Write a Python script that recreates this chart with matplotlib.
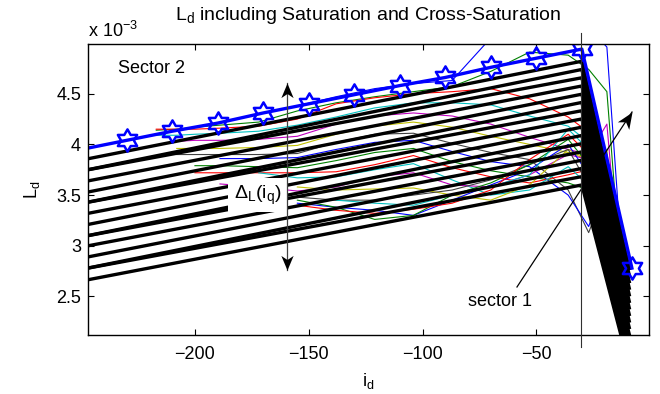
import numpy as np
import matplotlib
matplotlib.use("Agg")
import matplotlib.pyplot as plt
from matplotlib.path import Path
from matplotlib.markers import MarkerStyle
from matplotlib.lines import Line2D
from matplotlib.ticker import FuncFormatter

plt.rcParams['font.family'] = ['Liberation Sans', 'DejaVu Sans']
plt.rcParams['mathtext.fontset'] = 'custom'
plt.rcParams['mathtext.rm'] = 'Liberation Sans'
plt.rcParams['mathtext.it'] = 'Liberation Sans'
plt.rcParams['mathtext.default'] = 'regular'

SCALE = 1e-3  # inductance values below are in units of 1e-3 H

# i_q = 0 curve (sector 2 grid plus the sector 1 end point)
ref_id = [-250, -230, -210, -190, -170, -150, -130, -110, -90, -70, -50, -30, -8]
ref_ld = [3.95, 4.04, 4.13, 4.21, 4.31, 4.40, 4.49, 4.58, 4.66, 4.76, 4.85, 4.94, 2.78]

# measured L_d(i_d) for increasing i_q
meas_id = [-217, -208, -200, -189, -172, -155, -138, -121, -104, -87, -70, -53, -36, -27, -19, -10]
nan = np.nan
meas_ld = [
    [nan, nan, nan, 4.22, 4.30, 4.38, 4.47, 4.55, 4.60, 4.63, 5.05, 5.30, 5.30, 5.15, 4.96, 2.10],
    [4.14, 4.15, 4.17, 4.19, 4.22, 4.33, 4.41, 4.47, 4.52, 4.57, 4.72, 4.91, 4.88, 4.74, 4.52, 1.95],
    [4.15, 4.15, 4.15, 4.16, 4.18, 4.25, 4.40, 4.46, 4.50, 4.52, 4.55, 4.45, 4.27, 4.12, 3.88, 1.90],
    [4.09, 4.09, 4.10, 4.11, 4.13, 4.19, 4.27, 4.36, 4.41, 4.41, 4.39, 4.28, 4.18, 4.02, 3.75, 1.90],
    [nan, 4.03, 4.04, 4.04, 4.05, 4.08, 4.20, 4.28, 4.31, 4.28, 4.20, 4.07, 3.95, 3.90, 4.20, 1.90],
    [nan, 3.96, 3.96, 3.96, 3.97, 3.99, 4.10, 4.18, 4.22, 4.17, 4.08, 4.00, 3.92, 3.85, 3.95, 1.90],
    [nan, 3.90, 3.90, 3.90, 3.90, 3.91, 4.02, 4.10, 4.11, 4.01, 3.92, 3.85, 3.55, 3.13, 3.60, 1.90],
    [nan, nan, nan, 3.86, 3.86, 3.87, 3.95, 4.02, 4.04, 3.93, 3.83, 3.78, 3.50, 3.19, 3.70, 1.90],
    [nan, nan, 3.79, 3.79, 3.78, 3.77, 3.84, 3.92, 3.96, 3.83, 3.74, 3.68, 3.62, 3.55, 3.90, 1.90],
    [nan, nan, 3.72, 3.72, 3.72, 3.72, 3.73, 3.80, 3.89, 3.77, 3.68, 3.62, 3.70, 3.75, 3.85, 1.90],
    [nan, nan, nan, nan, 3.72, 3.67, 3.68, 3.75, 3.81, 3.65, 3.50, 3.55, 3.78, 3.60, 3.70, 1.90],
    [nan, nan, nan, 3.61, 3.58, 3.54, 3.58, 3.68, 3.72, 3.60, 3.58, 3.70, 3.90, 3.85, 3.80, 1.90],
    [nan, nan, nan, nan, nan, 3.58, 3.55, 3.56, 3.57, 3.50, 3.45, 3.60, 3.95, 3.85, 3.75, 1.90],
    [nan, nan, nan, nan, nan, 3.48, 3.45, 3.45, 3.50, 3.55, 3.65, 3.80, 3.95, 3.60, 3.80, 1.90],
    [nan, nan, nan, nan, nan, 3.42, 3.38, 3.35, 3.30, 3.45, 3.60, 3.75, 4.00, 3.70, 3.70, 1.90],
    [nan, nan, nan, nan, nan, 3.45, 3.38, 3.26, 3.30, 3.50, 3.62, 3.80, 4.05, 3.80, 3.60, 1.90],
    [nan, nan, nan, nan, nan, 3.40, 3.35, 3.32, 3.36, 3.42, 3.55, 3.85, 4.10, 3.90, 3.70, 1.90],
    [nan, nan, nan, nan, nan, nan, 3.45, 3.42, 3.40, 3.50, 3.58, 3.70, 4.15, 3.95, 3.65, 1.90],
]

# piecewise-linear model: sector 2 from i_d = -250 to -30, sector 1 down to -9
model_id = [-250, -30, -9]
model_left = [3.845, 3.737, 3.737, 3.627, 3.517, 3.417, 3.417, 3.307,
              3.197, 3.087, 3.087, 2.987, 2.877, 2.767, 2.767, 2.652]
model_knee = [4.820, 4.739, 4.657, 4.576, 4.495, 4.414, 4.332, 4.251,
              4.170, 4.088, 4.007, 3.926, 3.844, 3.763, 3.682, 3.600]
model_end = [2.760, 2.695, 2.631, 2.566, 2.501, 2.436, 2.372, 2.307,
             2.242, 2.178, 2.113, 2.048, 1.984, 1.919, 1.854, 1.790]

x_ticks = [-200, -150, -100, -50]
y_ticks = [2.5, 3.0, 3.5, 4.0, 4.5]

matlab_colors = [(0, 0, 1), (0, 0.5, 0), (1, 0, 0), (0, 0.75, 0.75),
                 (0.75, 0, 0.75), (0.75, 0.75, 0), (0.25, 0.25, 0.25)]

# six-pointed star marker (hexagram)
ang = np.deg2rad(90 + 30 * np.arange(12))
rad = np.where(np.arange(12) % 2 == 0, 1.0, 0.577)
hex_verts = np.column_stack([rad * np.cos(ang), rad * np.sin(ang)])
hex_verts = np.vstack([hex_verts, hex_verts[:1]])
hexagram = MarkerStyle(Path(hex_verts, closed=True))

fig = plt.figure(figsize=(6.6, 3.94), dpi=100)
ax = fig.add_axes([0.1333, 0.1497, 0.85, 0.7386])

for i, vals in enumerate(meas_ld):
    ax.plot(meas_id, np.array(vals) * SCALE, color=matlab_colors[i % 7], lw=0.8)

for yl, yk, ye in zip(model_left, model_knee, model_end):
    ax.plot(model_id, np.array([yl, yk, ye]) * SCALE, color='k', lw=2.4,
            solid_capstyle='butt', solid_joinstyle='round')

ax.plot(ref_id, np.array(ref_ld) * SCALE, color='b', lw=2.4,
        marker=hexagram, ms=16, mfc='none', mec='b', mew=1.8,
        markevery=list(range(1, len(ref_id))))

ax.set_xlim(-247, -0.5)
ax.set_ylim(2.12 * SCALE, 4.99 * SCALE)
ax.set_xticks(x_ticks)
ax.set_yticks(np.array(y_ticks) * SCALE)
ax.yaxis.set_major_formatter(FuncFormatter(lambda v, p: f'{v / SCALE:g}'))
ax.tick_params(direction='in', length=4, width=0.8, top=True, right=True,
               labelsize=13)
ax.tick_params(axis='x', pad=8)
ax.tick_params(axis='y', pad=5)
for s in ax.spines.values():
    s.set_linewidth(1.0)

ax.set_title('L$_d$ including Saturation and Cross-Saturation', fontsize=14, pad=17)
ax.set_xlabel('i$_d$', fontsize=13, labelpad=6)
ax.set_ylabel('L$_d$', fontsize=13, labelpad=10)
fig.text(0.1333, 0.905, 'x 10$^{-3}$', fontsize=13, ha='left', va='baseline')

# annotations in figure coordinates
fig.text(0.1788, 0.8249, 'Sector 2', fontsize=13, ha='left', va='center')
fig.text(0.391, 0.505, 'Δ$_L$(i$_q$)', fontsize=14, ha='center', va='center',
         bbox=dict(boxstyle='square,pad=0.3', fc='w', ec='none'), zorder=3)
fig.text(0.7576, 0.236, 'sector 1', fontsize=13, ha='center', va='center')


def head(angle_deg):
    verts = np.array([[0, 0], [0.42, -1.0], [0, -0.72], [-0.42, -1.0], [0, 0]])
    th = np.deg2rad(angle_deg - 90)
    rot = np.array([[np.cos(th), -np.sin(th)], [np.sin(th), np.cos(th)]])
    v = verts @ rot.T
    return MarkerStyle(Path(v, [Path.MOVETO, Path.LINETO, Path.LINETO,
                                Path.LINETO, Path.CLOSEPOLY]))


def arrow(x0, y0, x1, y1, ms, color='k', both=False):
    fig.add_artist(Line2D([x0, x1], [y0, y1], transform=fig.transFigure,
                          color=color, lw=0.9, zorder=4))
    W, H = fig.get_size_inches() * fig.dpi
    a = np.degrees(np.arctan2((y1 - y0) * H, (x1 - x0) * W))
    fig.add_artist(Line2D([x1], [y1], transform=fig.transFigure, ls='none',
                          marker=head(a), ms=ms, color='k', mew=0, zorder=5))
    if both:
        fig.add_artist(Line2D([x0], [y0], transform=fig.transFigure, ls='none',
                              marker=head(a + 180), ms=ms, color='k', mew=0,
                              zorder=5))


arrow(0.4356, 0.3147, 0.4356, 0.7893, ms=21, color='#404040', both=True)
arrow(0.7833, 0.2716, 0.9576, 0.7157, ms=25)
fig.add_artist(Line2D([0.8803, 0.8803], [0.1193, 0.9162], transform=fig.transFigure,
                      color='#303030', lw=0.8, zorder=4))

fig.savefig('out.png', dpi=100)
